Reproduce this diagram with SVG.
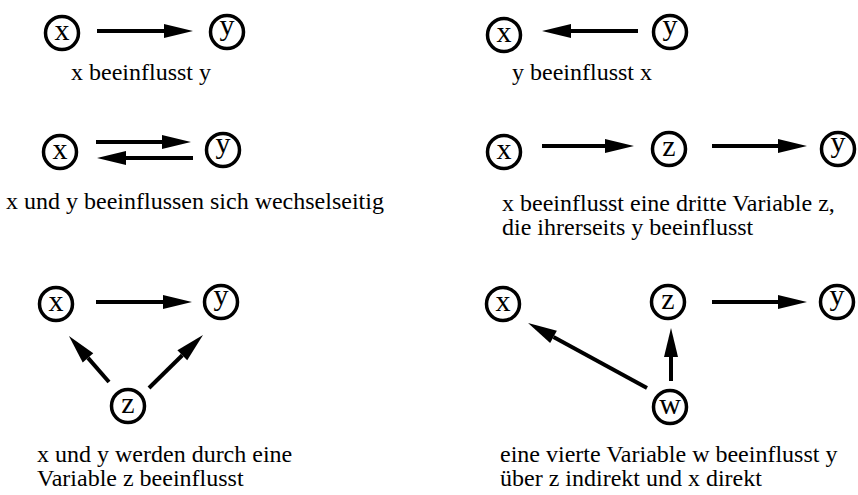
<svg xmlns="http://www.w3.org/2000/svg" width="858" height="495" viewBox="0 0 858 495">
<style>
.n circle{fill:#fff;stroke:#000;stroke-width:3.5}
.n text{font-family:"Liberation Serif","Times New Roman",serif;font-size:30px;text-anchor:middle;fill:#000}
.c line{stroke:#000;stroke-width:4;marker-end:url(#ah)}
.cap{font-family:"Liberation Serif","Times New Roman",serif;font-size:24px;fill:#000}
</style>
<defs>
<marker id="ah" markerUnits="userSpaceOnUse" markerWidth="30" markerHeight="16" refX="0" refY="7" orient="auto" overflow="visible">
<path d="M0,0 L29,7 L0,14 z" fill="#000"/>
</marker>
</defs>
<rect width="858" height="495" fill="#fff"/>
<g id="connectors" class="c">
<line x1="97" y1="31" x2="164" y2="31"/>
<line x1="638" y1="31" x2="571" y2="31"/>
<line x1="96" y1="142" x2="162" y2="142"/>
<line x1="193" y1="158" x2="126" y2="158"/>
<line x1="542" y1="146" x2="605" y2="146"/>
<line x1="712" y1="146" x2="778" y2="146"/>
<line x1="96" y1="302" x2="163" y2="302"/>
<line x1="109" y1="382" x2="88" y2="357.9"/>
<line x1="149" y1="388" x2="182.3" y2="355.3"/>
<line x1="712" y1="302" x2="778" y2="302"/>
<line x1="671" y1="381" x2="671" y2="357"/>
<line x1="647" y1="388" x2="553.5" y2="336.9"/>
</g>
<g id="p1x" class="n"><circle cx="62" cy="33" r="16.5"/><text x="62" y="40">x</text></g>
<g id="p1y" class="n"><circle cx="227" cy="32" r="16.5"/><text x="227" y="35">y</text></g>
<g id="p2x" class="n"><circle cx="504" cy="35" r="16.5"/><text x="504" y="42">x</text></g>
<g id="p2y" class="n"><circle cx="670" cy="32" r="16.5"/><text x="670" y="35">y</text></g>
<g id="p3x" class="n"><circle cx="60" cy="152" r="16.5"/><text x="60" y="159">x</text></g>
<g id="p3y" class="n"><circle cx="223" cy="150" r="16.5"/><text x="223" y="153">y</text></g>
<g id="p4x" class="n"><circle cx="504" cy="152" r="16.5"/><text x="504" y="159">x</text></g>
<g id="p4z" class="n"><circle cx="669" cy="149" r="16.5"/><text x="669" y="156">z</text></g>
<g id="p4y" class="n"><circle cx="838" cy="149" r="16.5"/><text x="838" y="152">y</text></g>
<g id="p5x" class="n"><circle cx="56" cy="304" r="16.5"/><text x="56" y="311">x</text></g>
<g id="p5y" class="n"><circle cx="221" cy="302" r="16.5"/><text x="221" y="305">y</text></g>
<g id="p5z" class="n"><circle cx="128" cy="406" r="16.5"/><text x="128" y="413">z</text></g>
<g id="p6x" class="n"><circle cx="503" cy="304" r="16.5"/><text x="503" y="311">x</text></g>
<g id="p6z" class="n"><circle cx="668" cy="302" r="16.5"/><text x="668" y="309">z</text></g>
<g id="p6y" class="n"><circle cx="837" cy="302" r="16.5"/><text x="837" y="305">y</text></g>
<g id="p6w" class="n"><circle cx="670" cy="407" r="16.5"/><text x="670" y="414">w</text></g>
<g id="captions">
<text class="cap" x="141" y="80" text-anchor="middle">x beeinflusst y</text>
<text class="cap" x="582" y="80" text-anchor="middle">y beeinflusst x</text>
<text class="cap" x="6" y="209">x und y beeinflussen sich wechselseitig</text>
<text class="cap" x="502" y="211">x beeinflusst eine dritte Variable z,</text>
<text class="cap" x="502" y="235">die ihrerseits y beeinflusst</text>
<text class="cap" x="37" y="462">x und y werden durch eine</text>
<text class="cap" x="37" y="486">Variable z beeinflusst</text>
<text class="cap" x="500" y="462">eine vierte Variable w beeinflusst y</text>
<text class="cap" x="500" y="486">über z indirekt und x direkt</text>
</g>
</svg>
